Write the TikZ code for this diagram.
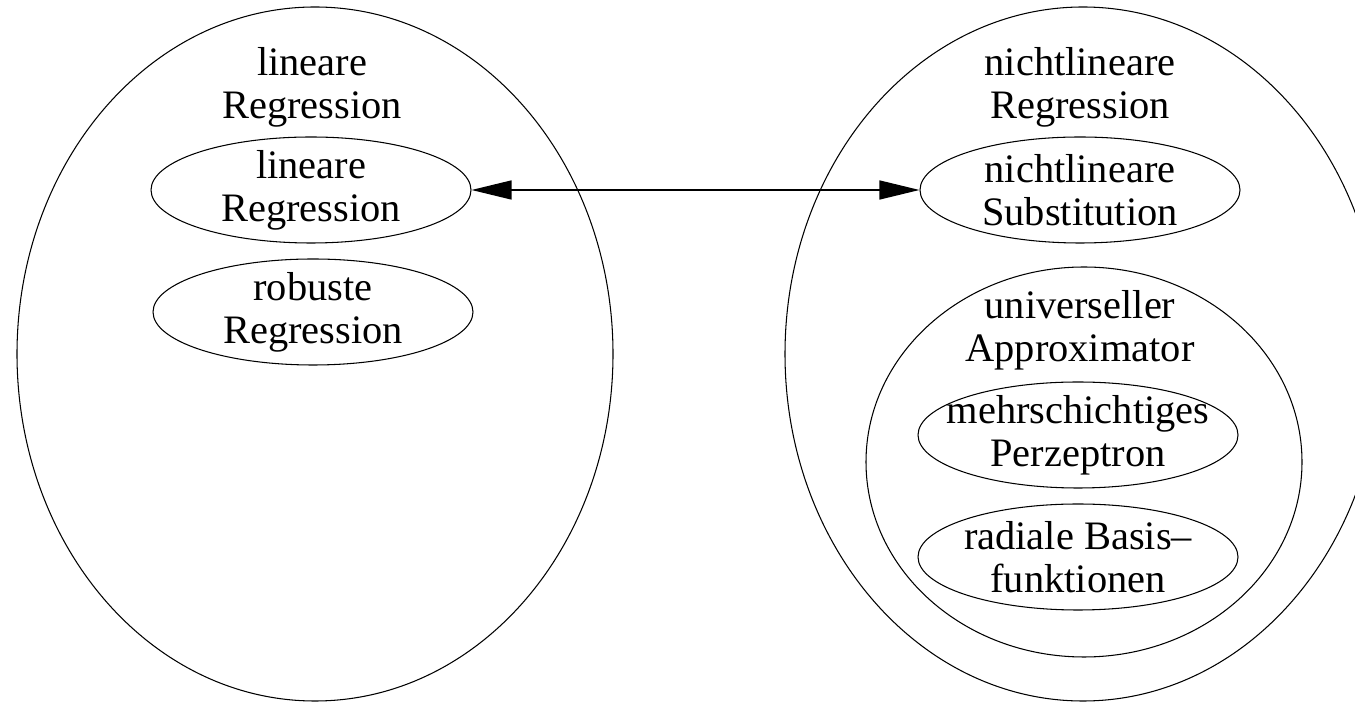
\documentclass[tikz,border=0pt]{standalone}
\usepackage{fontspec}
\setmainfont{Liberation Serif}
\usetikzlibrary{arrows.meta,shapes.geometric,positioning}

\begin{document}
\begin{tikzpicture}[
  regell/.style={draw,ellipse,line width=0.6pt,inner sep=-0.5cm,minimum width=6.4cm,minimum height=2.12cm,
    align=center,font=\fontsize{23}{24.5}\selectfont},
  regtitle/.style={align=center,inner sep=0pt,font=\fontsize{23}{24.5}\selectfont}
]
  \useasboundingbox (0,0) rectangle (27.1,14.06);
  % Cluster 1: linear
  \node[draw,ellipse,line width=0.6pt,minimum width=11.92cm,minimum height=13.88cm] (linclus) at (6.30,6.98) {};
  \node[regtitle] (lintitle) at (6.24,12.32) {lineare\\Regression};
  \node[regell] (linreg) at (6.22,10.26) {lineare\\Regression};
  \node[regell] (robreg) at (6.26,7.82) {robuste\\Regression};
  % Cluster 2: nonlinear
  \node[draw,ellipse,line width=0.6pt,minimum width=11.92cm,minimum height=13.88cm] (nlclus) at (21.66,6.98) {};
  \node[regtitle] (nltitle) at (21.60,12.32) {nichtlineare\\Regression};
  \node[regell] (nlsub) at (21.60,10.26) {nichtlineare\\Substitution};
  % Sub-cluster: approximator
  \node[draw,ellipse,line width=0.6pt,minimum width=8.72cm,minimum height=7.80cm] (apclus) at (21.68,4.82) {};
  \node[regtitle] (aptitle) at (21.60,7.46) {universeller\\Approximator};
  \node[regell] (mlp) at (21.56,5.36) {mehrschichtiges\\Perzeptron};
  \node[regell] (rbf) at (21.56,2.92) {radiale Basis--\\funktionen};
  % Connector
  \draw[line width=0.8pt,{Triangle[length=0.8cm,width=0.38cm]}-{Triangle[length=0.8cm,width=0.38cm]}]
    (linreg.east) -- (nlsub.west);
\end{tikzpicture}
\end{document}
